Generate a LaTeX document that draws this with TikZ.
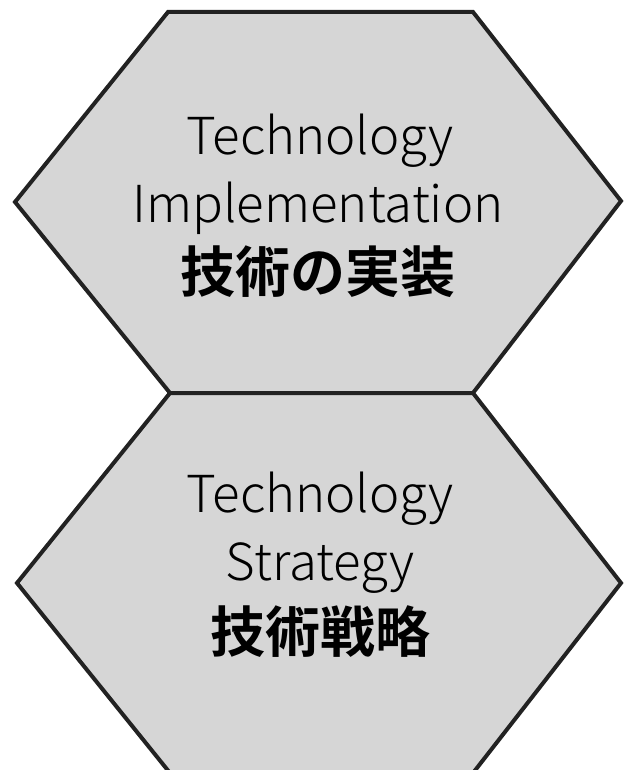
\documentclass[tikz,border=0pt]{standalone}
\usepackage{fontspec}
\setmainfont{Noto Sans CJK JP}
\newfontfamily\enlight{Noto Sans CJK JP Light}
\newfontfamily\jpbold{Noto Sans CJK JP Bold}
\begin{document}
\begin{tikzpicture}[x=1pt,y=-1pt,
  hexa/.style={fill={rgb,255:red,214;green,214;blue,214},draw={rgb,255:red,34;green,34;blue,34},line width=4pt,line join=miter},
  entext/.style={anchor=base,inner sep=0pt,font=\enlight\fontsize{51}{51}\selectfont},
  jptext/.style={anchor=base,inner sep=0pt,font=\jpbold\fontsize{55}{55}\selectfont}]
\useasboundingbox (0,0) rectangle (623,770);
\coordinate (a1) at (168,12);
\coordinate (a2) at (473,12);
\coordinate (a3) at (621,201);
\coordinate (a4) at (473,393);
\coordinate (a5) at (170,393);
\coordinate (a6) at (15,202);
\coordinate (b3) at (621,583);
\coordinate (b4) at (473,773);
\coordinate (b5) at (170,773);
\coordinate (b6) at (17,583);
\draw[hexa] (a1) -- (a2) -- (a3) -- (a4) -- (a5) -- (a6) -- cycle;
\draw[hexa] (a5) -- (a4) -- (b3) -- (b4) -- (b5) -- (b6) -- cycle;
\node[entext] (t1) at (320,155) {Technology};
\node[entext] (t2) at (318,222) {Implementation};
\node[jptext] (t3) at (318,292) {技術の実装};
\node[entext] (s1) at (320,512) {Technology};
\node[entext] (s2) at (320,580) {Strategy};
\node[jptext] (s3) at (320,652) {技術戦略};
\end{tikzpicture}
\end{document}
